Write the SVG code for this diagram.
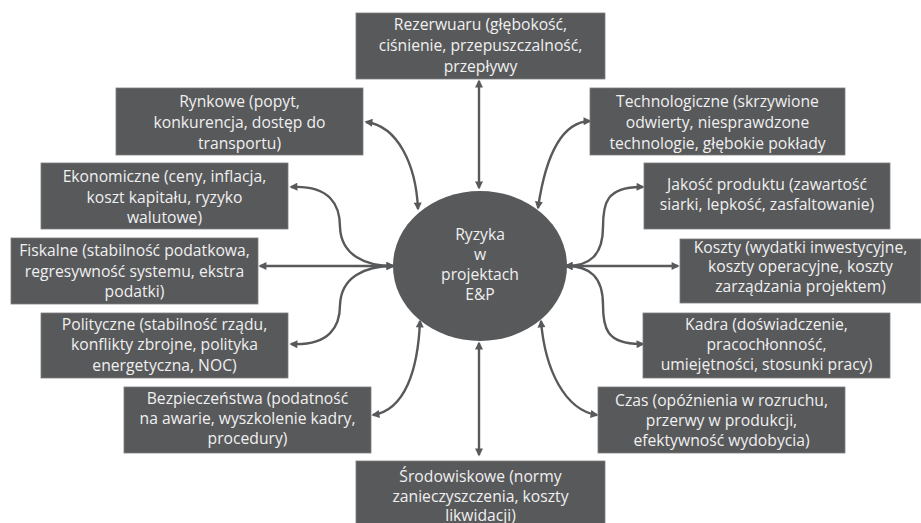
<svg xmlns="http://www.w3.org/2000/svg" width="921" height="523" viewBox="0 0 921 523">
<style>
.box{fill:#58595b;stroke:#7c7d7f;stroke-width:0.8}
.t{font-family:"Open Sans","Liberation Sans",sans-serif;font-size:15.7px;fill:#f0f0f0;text-anchor:middle}
.c{fill:none;stroke:#58595b;stroke-width:2.4;marker-start:url(#ah);marker-end:url(#ah)}
</style>
<defs>
<marker id="ah" viewBox="0 0 10 10" refX="8" refY="5" markerWidth="9" markerHeight="8" markerUnits="userSpaceOnUse" orient="auto-start-reverse">
<path d="M0,0 L10,5 L0,10 z" fill="#58595b"/>
</marker>
</defs>
<rect width="921" height="523" fill="#ffffff"/>
<g id="connectors">
<path class="c" d="M479,81 L479,188"/>
<path class="c" d="M479,343 L479,455"/>
<path class="c" d="M260,266 L393,266"/>
<path class="c" d="M566,266 L678,266"/>
<path class="c" d="M366,122 C398,126 416,165 418,209"/>
<path class="c" d="M590,121 C560,122 545,160 538,208"/>
<path class="c" d="M291,187 C330,185 340,205 340,227 C341,255 365,266 393,266"/>
<path class="c" d="M291,344 C330,346 340,326 340,305 C341,277 365,266 393,266"/>
<path class="c" d="M643,187 C605,186 603,205 603,227 C603,255 590,266 566,266"/>
<path class="c" d="M643,344 C605,345 603,326 603,305 C603,277 590,266 566,266"/>
<path class="c" d="M373,415 C405,410 418,370 420,321"/>
<path class="c" d="M597,415 C565,410 545,370 541,321"/>
</g>
<g id="center">
<ellipse cx="480" cy="266" rx="87" ry="75" fill="#58595b"/>
<text class="t" x="480" y="240">Ryzyka</text>
<text class="t" x="480" y="260">w</text>
<text class="t" x="480" y="280">projektach</text>
<text class="t" x="480" y="300">E&amp;P</text>
</g>
<g id="rezerwuaru">
<rect class="box" x="356" y="13" width="249" height="66"/>
<text class="t" x="480.5" y="30">Rezerwuaru (głębokość,</text>
<text class="t" x="480.5" y="51">ciśnienie, przepuszczalność,</text>
<text class="t" x="480.5" y="72">przepływy</text>
</g>
<g id="rynkowe">
<rect class="box" x="116" y="88" width="247" height="67"/>
<text class="t" x="239.5" y="107">Rynkowe (popyt,</text>
<text class="t" x="239.5" y="128">konkurencja, dostęp do</text>
<text class="t" x="239.5" y="149">transportu)</text>
</g>
<g id="technologiczne">
<rect class="box" x="590" y="88" width="255" height="67"/>
<text class="t" x="717.5" y="107">Technologiczne (skrzywione</text>
<text class="t" x="717.5" y="128">odwierty, niesprawdzone</text>
<text class="t" x="717.5" y="149">technologie, głębokie pokłady</text>
</g>
<g id="ekonomiczne">
<rect class="box" x="41" y="163" width="247" height="66"/>
<text class="t" x="164.5" y="182">Ekonomiczne (ceny, inflacja,</text>
<text class="t" x="164.5" y="203">koszt kapitału, ryzyko</text>
<text class="t" x="164.5" y="223">walutowe)</text>
</g>
<g id="jakosc">
<rect class="box" x="644" y="163" width="246" height="66"/>
<text class="t" x="767" y="190">Jakość produktu (zawartość</text>
<text class="t" x="767" y="209.5">siarki, lepkość, zasfaltowanie)</text>
</g>
<g id="fiskalne">
<rect class="box" x="11" y="238" width="247" height="66"/>
<text class="t" x="134.5" y="256">Fiskalne (stabilność podatkowa,</text>
<text class="t" x="134.5" y="277">regresywność systemu, ekstra</text>
<text class="t" x="134.5" y="297">podatki)</text>
</g>
<g id="koszty">
<rect class="box" x="680" y="239" width="241" height="64"/>
<text class="t" x="800.5" y="252.5">Koszty (wydatki inwestycyjne,</text>
<text class="t" x="800.5" y="272">koszty operacyjne, koszty</text>
<text class="t" x="800.5" y="291.5">zarządzania projektem)</text>
</g>
<g id="polityczne">
<rect class="box" x="41" y="313" width="247" height="65"/>
<text class="t" x="164.5" y="330">Polityczne (stabilność rządu,</text>
<text class="t" x="164.5" y="350">konflikty zbrojne, polityka</text>
<text class="t" x="164.5" y="371">energetyczna, NOC)</text>
</g>
<g id="kadra">
<rect class="box" x="643" y="313" width="247" height="65"/>
<text class="t" x="766.5" y="330">Kadra (doświadczenie,</text>
<text class="t" x="766.5" y="350">pracochłonność,</text>
<text class="t" x="766.5" y="370">umiejętności, stosunki pracy)</text>
</g>
<g id="bezpieczenstwa">
<rect class="box" x="124" y="387" width="247" height="66"/>
<text class="t" x="247.5" y="404">Bezpieczeństwa (podatność</text>
<text class="t" x="247.5" y="424">na awarie, wyszkolenie kadry,</text>
<text class="t" x="247.5" y="444">procedury)</text>
</g>
<g id="czas">
<rect class="box" x="598" y="387" width="247" height="66"/>
<text class="t" x="721.5" y="406">Czas (opóźnienia w rozruchu,</text>
<text class="t" x="721.5" y="426">przerwy w produkcji,</text>
<text class="t" x="721.5" y="446">efektywność wydobycia)</text>
</g>
<g id="srodowiskowe">
<rect class="box" x="356" y="461" width="249" height="64"/>
<text class="t" x="480.5" y="482">Środowiskowe (normy</text>
<text class="t" x="480.5" y="502">zanieczyszczenia, koszty</text>
<text class="t" x="480.5" y="521">likwidacji)</text>
</g>
</svg>
